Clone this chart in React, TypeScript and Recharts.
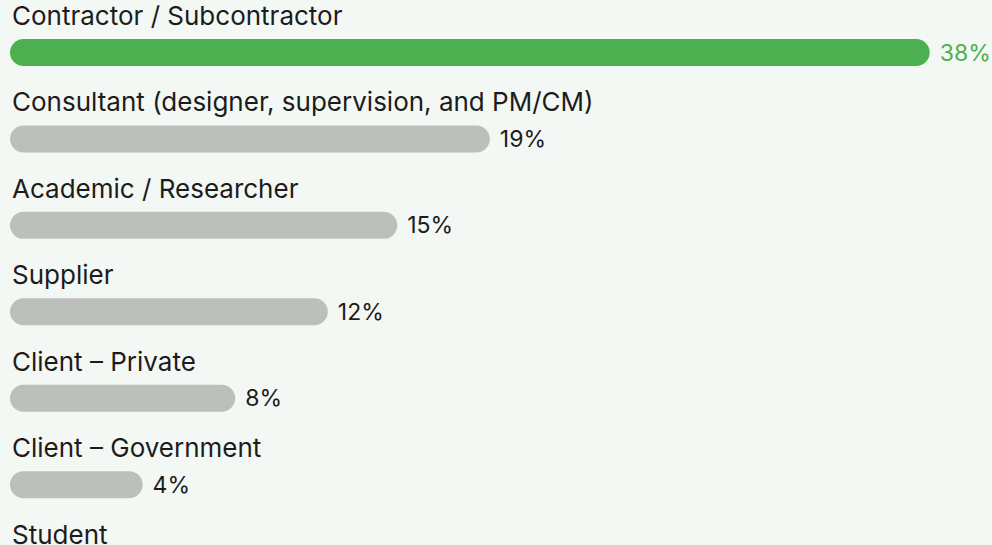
import React from "react";
import { BarChart, Bar, XAxis, YAxis, Cell, LabelList } from "recharts";

const categories = [
  "Contractor / Subcontractor",
  "Consultant (designer, supervision, and PM/CM)",
  "Academic / Researcher",
  "Supplier",
  "Client – Private",
  "Client – Government",
  "Student",
];
const shares = [38, 19, 15, 12, 8, 4, 2];

const GREEN = "#4caf50";
const GRAY = "#bcbfbb";
const TEXT = "#1c1c1c";
const BG = "#f3f8f4";
const PAD = 40; // rounded bars start at the left edge, before the zero point

const data = categories.map((name, i) => ({ name, value: shares[i] }));

const PillBar = (props: any) => {
  const { x, y, width, height, fill } = props;
  return <rect x={x - PAD} y={y} width={width + PAD} height={height} rx={height / 2} ry={height / 2} fill={fill} />;
};

const NameLabel = (props: any) => {
  const { x, y, value } = props;
  return (
    <text x={x - PAD + 2} y={y - 14} fontSize={26} fill={TEXT} fontFamily="Inter">
      {value}
    </text>
  );
};

const ValueLabel = (props: any) => {
  const { x, y, width, height, value, index } = props;
  return (
    <text
      x={x + width + 10}
      y={y + height / 2}
      dominantBaseline="central"
      fontSize={23}
      fill={index === 0 ? GREEN : TEXT}
      fontFamily="Inter"
    >
      {value}%
    </text>
  );
};

export default function App() {
  return (
    <div style={{ position: "absolute", left: 0, top: 0, width: 992, height: 545, overflow: "hidden", background: BG }}>
      <BarChart
        width={992}
        height={640}
        data={data}
        layout="vertical"
        margin={{ top: 9, right: 16, bottom: 26, left: 50 }}
        barCategoryGap={0}
      >
        <XAxis type="number" domain={[0, 40]} hide />
        <YAxis type="category" dataKey="name" hide />
        <Bar dataKey="value" barSize={27} shape={<PillBar />} isAnimationActive={false}>
          {data.map((d, i) => (
            <Cell key={d.name} fill={i === 0 ? GREEN : GRAY} />
          ))}
          <LabelList dataKey="name" content={<NameLabel />} />
          <LabelList dataKey="value" content={<ValueLabel />} />
        </Bar>
      </BarChart>
    </div>
  );
}
